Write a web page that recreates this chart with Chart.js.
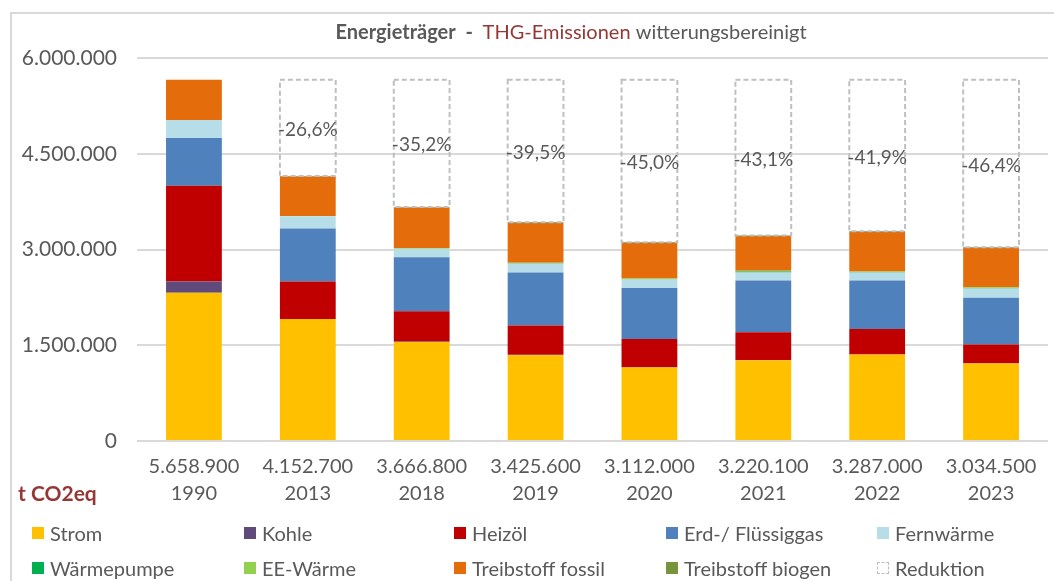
<!DOCTYPE html>
<html lang="de">
<head>
<meta charset="utf-8">
<title>Energieträger - THG-Emissionen witterungsbereinigt</title>
<script src="https://cdn.jsdelivr.net/npm/chart.js@4.4.1/dist/chart.umd.min.js"></script>
<style>
    body { margin: 0; background: #fff; }
    #wrap { position: relative; width: 1054px; height: 581px; overflow: hidden; }
    #legend { position: absolute; left: 0; top: 0; width: 1054px; height: 581px; pointer-events: none;
        font-family: Lato, "Open Sans", sans-serif; font-size: 20px; color: #595959; }
    .item { position: absolute; display: flex; align-items: center; white-space: nowrap; }
    .box { width: 12px; height: 12px; margin-right: 6px; box-sizing: border-box; }
</style>
</head>
<body>
<div id="wrap">
    <canvas id="chart" width="1054" height="581"></canvas>
    <div id="legend"></div>
</div>
<script>
// data (t CO2eq)
const years = ["1990", "2013", "2018", "2019", "2020", "2021", "2022", "2023"];
const totals = [5658900, 4152700, 3666800, 3425600, 3112000, 3220100, 3287000, 3034500];

const strom = [2323000, 1911000, 1552000, 1344000, 1151000, 1266000, 1354000, 1214000];
const kohle = [177000, 0, 8000, 8000, 5000, 3000, 3000, 3000];
const heizoel = [1500000, 589000, 471000, 456000, 442000, 434000, 398000, 293000];
const gas = [745000, 828000, 849000, 832000, 797000, 813000, 761000, 733000];
const fernwaerme = [282000, 192000, 130000, 136000, 135000, 125000, 124000, 146000];
const waermepumpe = [0, 0, 3000, 4000, 5000, 15000, 6000, 6000];
const eeWaerme = [0, 3000, 12000, 14000, 10000, 10000, 10000, 12000];
const treibstoffFossil = [632000, 620000, 632000, 621000, 558000, 546000, 620000, 618000];
const treibstoffBiogen = [0, 10000, 10000, 10000, 9000, 8000, 11000, 10000];

// reduction against 1990
const reduktion = totals.map((t) => totals[0] - t);

const yTicks = [0, 1500000, 3000000, 4500000, 6000000];

const seriesNames = ["Strom", "Kohle", "Heizöl", "Erd-/ Flüssiggas", "Fernwärme",
    "Wärmepumpe", "EE-Wärme", "Treibstoff fossil", "Treibstoff biogen", "Reduktion"];
const seriesData = [strom, kohle, heizoel, gas, fernwaerme,
    waermepumpe, eeWaerme, treibstoffFossil, treibstoffBiogen, reduktion];
const seriesColors = ["#FFC000", "#604A7B", "#C00000", "#4F81BD", "#B7DEE8",
    "#00B050", "#92D050", "#E46C0A", "#77933C", "rgba(255,255,255,0)"];

const fmt = (v) => v.toLocaleString("de-DE");
const FONT = "Lato, 'Open Sans', sans-serif";
const GRAY = "#595959";
const DARKRED = "#953735";

// frame, title and unit label
const decorPlugin = {
    id: "decor",
    beforeDraw(chart) {
        const c = chart.ctx;
        c.save();
        c.strokeStyle = "#D9D9D9";
        c.lineWidth = 2;
        c.beginPath();
        c.moveTo(11, 700);
        c.lineTo(11, 13);
        c.lineTo(1100, 13);
        c.stroke();
        c.restore();
    },
    afterDraw(chart) {
        const c = chart.ctx;
        c.save();
        c.textBaseline = "middle";
        const parts = [
            { t: "Energieträger", f: "bold 20px " + FONT, col: GRAY },
            { t: "  -  ", f: "bold 20px " + FONT, col: GRAY },
            { t: "THG-Emissionen", f: "20px " + FONT, col: DARKRED },
            { t: " witterungsbereinigt", f: "20px " + FONT, col: GRAY },
        ];
        let w = 0;
        parts.forEach((p) => { c.font = p.f; w += c.measureText(p.t).width; });
        let x = 571 - w / 2;
        parts.forEach((p) => {
            c.font = p.f;
            c.fillStyle = p.col;
            c.fillText(p.t, x, 33);
            x += c.measureText(p.t).width;
        });
        c.font = "bold 21px " + FONT;
        c.fillStyle = DARKRED;
        c.fillText("t CO2eq", 18, 494);
        c.restore();
    },
};

// dashed boxes + percentage labels for Reduktion
const reduktionPlugin = {
    id: "reduktion",
    afterDatasetsDraw(chart) {
        const idx = chart.data.datasets.length - 1;
        const meta = chart.getDatasetMeta(idx);
        const c = chart.ctx;
        c.save();
        meta.data.forEach((el, i) => {
            if (!reduktion[i]) return;
            const left = el.x - el.width / 2;
            c.strokeStyle = "#BFBFBF";
            c.lineWidth = 2;
            c.setLineDash([5, 3]);
            c.strokeRect(left, el.y, el.width, el.base - el.y);
            c.setLineDash([]);
            const pct = ((totals[i] / totals[0] - 1) * 100).toFixed(1).replace(".", ",") + "%";
            c.font = "19px " + FONT;
            c.fillStyle = GRAY;
            c.textAlign = "center";
            c.textBaseline = "middle";
            c.fillText(pct, el.x, (el.y + el.base) / 2 + 2);
        });
        c.restore();
    },
};

const chart = new Chart(document.getElementById("chart"), {
    type: "bar",
    data: {
        labels: years.map((y, i) => [fmt(totals[i]), y]),
        datasets: seriesNames.map((name, i) => ({
            label: name,
            data: seriesData[i],
            backgroundColor: seriesColors[i],
            borderWidth: 0,
            categoryPercentage: 1,
            barPercentage: 0.49,
        })),
    },
    options: {
        responsive: false,
        animation: false,
        layout: { padding: { top: 58, right: 6, bottom: 70, left: 0 } },
        plugins: {
            legend: { display: false },
            tooltip: { enabled: false },
            title: { display: false },
        },
        scales: {
            x: {
                stacked: true,
                grid: { display: false, drawTicks: false },
                border: { display: false },
                ticks: {
                    color: GRAY,
                    font: { family: FONT, size: 20, lineHeight: 1.35 },
                    padding: 12,
                    maxRotation: 0,
                },
                afterFit: (scale) => { scale.height = 70; },
            },
            y: {
                stacked: true,
                min: 0,
                max: 6000000,
                afterBuildTicks: (scale) => { scale.ticks = yTicks.map((v) => ({ value: v })); },
                grid: { color: "#D9D9D9", lineWidth: 2, drawTicks: false },
                border: { display: false },
                ticks: {
                    color: GRAY,
                    font: { family: FONT, size: 21 },
                    padding: 20,
                    callback: (v) => fmt(v),
                },
                afterFit: (scale) => { scale.width = 137; },
            },
        },
    },
    plugins: [decorPlugin, reduktionPlugin],
});

// legend in two rows of five columns
const legend = document.getElementById("legend");
const colX = [32, 244, 454, 666, 877];
const rowY = [533, 568];
seriesNames.forEach((name, i) => {
    const item = document.createElement("div");
    item.className = "item";
    item.style.left = colX[i % 5] + "px";
    item.style.top = rowY[Math.floor(i / 5)] - 12 + "px";
    item.style.height = "24px";
    const box = document.createElement("span");
    box.className = "box";
    if (name === "Reduktion") {
        box.style.border = "1px dashed #BFBFBF";
        box.style.background = "#fff";
    } else {
        box.style.background = seriesColors[i];
    }
    const txt = document.createElement("span");
    txt.textContent = name;
    item.appendChild(box);
    item.appendChild(txt);
    legend.appendChild(item);
});
</script>
</body>
</html>
